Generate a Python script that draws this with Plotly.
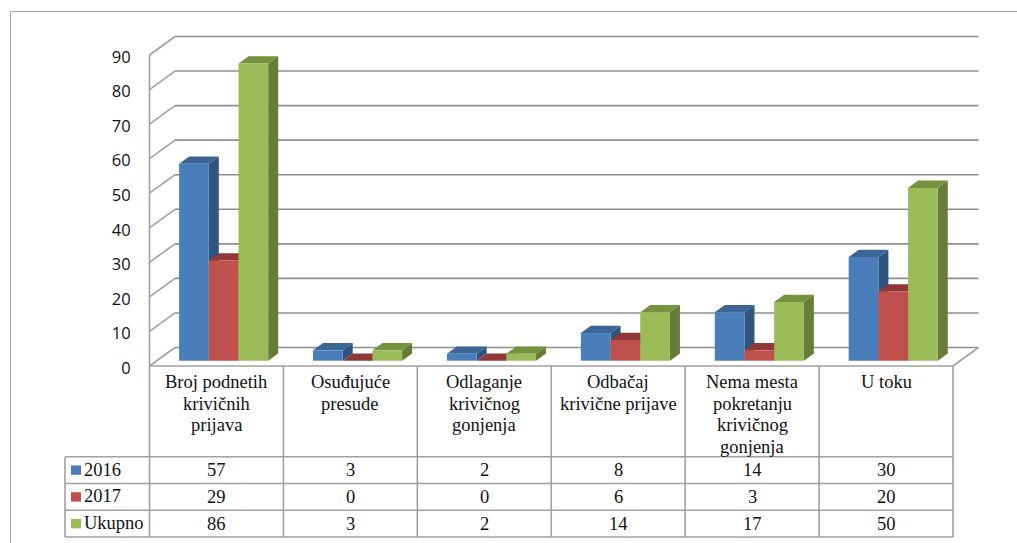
import plotly.graph_objects as go

# ---- data ----
categories = [
    "Broj podnetih<br>krivičnih<br>prijava",
    "Osuđujuće<br>presude",
    "Odlaganje<br>krivičnog<br>gonjenja",
    "Odbačaj<br>krivične prijave",
    "Nema mesta<br>pokretanju<br>krivičnog<br>gonjenja",
    "U toku",
]
series_names = ["2016", "2017", "Ukupno"]
values_2016 = [57, 3, 2, 8, 14, 30]
values_2017 = [29, 0, 0, 6, 3, 20]
values_total = [86, 3, 2, 14, 17, 50]
y_ticks = [0, 10, 20, 30, 40, 50, 60, 70, 80, 90]
front_colors = ["#4A7EBB", "#C0504D", "#9BBB59"]
side_colors = ["#2F5480", "#7F3331", "#667C38"]
top_colors = ["#3A6594", "#8F3836", "#76923D"]

all_values = [values_2016, values_2017, values_total]
W, H = 1017, 543
n = len(categories)

# ---- layout of the pseudo-3D scene, in pixels ----
PLOT_L, PLOT_R, PLOT_T, PLOT_B = 140, 987, 28, 373
FRONT_L, FRONT_R, FRONT_0, FRONT_90 = 149.5, 953, 366, 55
CAT_W = (FRONT_R - FRONT_L) / n
UNIT = (FRONT_0 - FRONT_90) / 90
x_range = [(PLOT_L - FRONT_L) / CAT_W, (PLOT_R - FRONT_L) / CAT_W]
y_range = [(FRONT_0 - PLOT_B) / UNIT, (FRONT_0 - PLOT_T) / UNIT]
WALL_DX, WALL_DY = 25.5 / CAT_W, 18.5 / UNIT
BAR_DX, BAR_DY = 10 / CAT_W, 7.3 / UNIT
BAR_W = 29.7 / CAT_W
BAR_START = 29.6 / CAT_W
BAR_BASE = 5.3 / UNIT

GRID = "#8E8E8E"
TABLE = "#A0A0A0"
FRAME = "#A6A6A6"


def px(x):
    return (x - PLOT_L) / (PLOT_R - PLOT_L)


def py(y):
    return (PLOT_B - y) / (PLOT_B - PLOT_T)


shapes = []


def line(x0, y0, x1, y1, color=GRID, width=1.6, ref="x", layer="below"):
    shapes.append(dict(type="line", xref=ref, yref="y" if ref == "x" else "paper",
                       x0=x0, y0=y0, x1=x1, y1=y1, layer=layer,
                       line=dict(color=color, width=width)))


# walls and floor
for t in y_ticks:
    line(0, t, WALL_DX, t + WALL_DY, color="#A0A0A0")
    line(WALL_DX, t + WALL_DY, n + WALL_DX, t + WALL_DY)
line(0, 0, 0, y_ticks[-1], color="#A0A0A0")
line(n, 0, n + WALL_DX, WALL_DY, color="#A0A0A0")


def poly(points, color):
    d = "M" + " L".join(f"{a:.5f},{b:.5f}" for a, b in points) + " Z"
    shapes.append(dict(type="path", xref="x", yref="y", path=d, layer="below",
                       fillcolor=color, line=dict(width=0)))


# side and top faces, derived from the values
for c in range(n):
    for s, vals in enumerate(all_values):
        x0 = c + BAR_START + s * BAR_W
        x1 = x0 + BAR_W
        y0 = BAR_BASE
        y1 = BAR_BASE + vals[c]
        poly([(x1, y0), (x1 + BAR_DX, y0 + BAR_DY), (x1 + BAR_DX, y1 + BAR_DY), (x1, y1)], side_colors[s])
        poly([(x0, y1), (x0 + BAR_DX, y1 + BAR_DY), (x1 + BAR_DX, y1 + BAR_DY), (x1, y1)], top_colors[s])

# table rules
ROWS = [456.7, 483.5, 510.3, 537]
TABLE_L = 65
for i in range(n + 1):
    xp = FRONT_L + i * CAT_W
    line(px(xp), py(FRONT_0), px(xp), py(ROWS[-1]), color=TABLE, ref="paper", layer="above")
line(px(FRONT_L), py(FRONT_0), px(FRONT_R), py(FRONT_0), color=TABLE, ref="paper", layer="above")
for r in ROWS:
    line(px(TABLE_L), py(r), px(FRONT_R), py(r), color=TABLE, ref="paper", layer="above")
line(px(TABLE_L), py(ROWS[0]), px(TABLE_L), py(ROWS[-1]), color=TABLE, ref="paper", layer="above")

# outer frame
line(px(10.5), py(11.5), px(W), py(11.5), color=FRAME, width=1, ref="paper", layer="above")
line(px(10.5), py(11.5), px(10.5), py(H), color=FRAME, width=1, ref="paper", layer="above")

annotations = []
SERIF = dict(family="Liberation Serif", size=18.5, color="#111111")
LINE_STEP, FIRST_LINE = 21.5, 382.3
for c, label in enumerate(categories):
    for k, part in enumerate(label.split("<br>")):
        annotations.append(dict(xref="x", yref="paper", x=c + 0.5, y=py(FIRST_LINE + k * LINE_STEP),
                                text=part, showarrow=False, xanchor="center", yanchor="middle",
                                font=SERIF))
for s, name in enumerate(series_names):
    yc = (ROWS[s] + ROWS[s + 1]) / 2
    shapes.append(dict(type="rect", xref="paper", yref="paper", layer="above",
                       x0=px(71), x1=px(81), y0=py(yc - 4.7), y1=py(yc + 4.7),
                       fillcolor=front_colors[s], line=dict(width=0)))
    annotations.append(dict(xref="paper", yref="paper", x=px(84), y=py(yc - 0.5), text=name,
                            showarrow=False, xanchor="left", yanchor="middle",
                            font=SERIF, borderpad=0, borderwidth=0))
    for c, v in enumerate(all_values[s]):
        annotations.append(dict(xref="x", yref="paper", x=c + 0.5, y=py(yc), text=str(v),
                                showarrow=False, xanchor="center", yanchor="middle", font=SERIF))

fig = go.Figure()
for s, vals in enumerate(all_values):
    fig.add_trace(go.Bar(
        name=series_names[s],
        x=[c + BAR_START + (s + 0.5) * BAR_W for c in range(n)],
        y=vals,
        base=BAR_BASE,
        width=BAR_W,
        marker=dict(color=front_colors[s], line=dict(width=0)),
        hoverinfo="y",
    ))

fig.update_layout(
    width=W, height=H, autosize=False,
    margin=dict(l=PLOT_L, r=W - PLOT_R, t=PLOT_T, b=H - PLOT_B, pad=0),
    paper_bgcolor="white", plot_bgcolor="white",
    barmode="overlay", showlegend=False,
    shapes=shapes, annotations=annotations,
    xaxis=dict(range=x_range, showgrid=False, zeroline=False, showline=False,
               showticklabels=False, ticks=""),
    yaxis=dict(range=y_range, showgrid=False, zeroline=False, showline=False,
               tickmode="array", tickvals=y_ticks,
               ticks="outside", ticklen=5, tickcolor="rgba(0,0,0,0)",
               ticklabelshift=2,
               tickfont=dict(family="Open Sans", size=16.5, color="#111111")),
)

fig.write_html("out.html", config={"displayModeBar": False},
               post_script="document.body.style.margin='0';document.documentElement.style.overflow='hidden';")
